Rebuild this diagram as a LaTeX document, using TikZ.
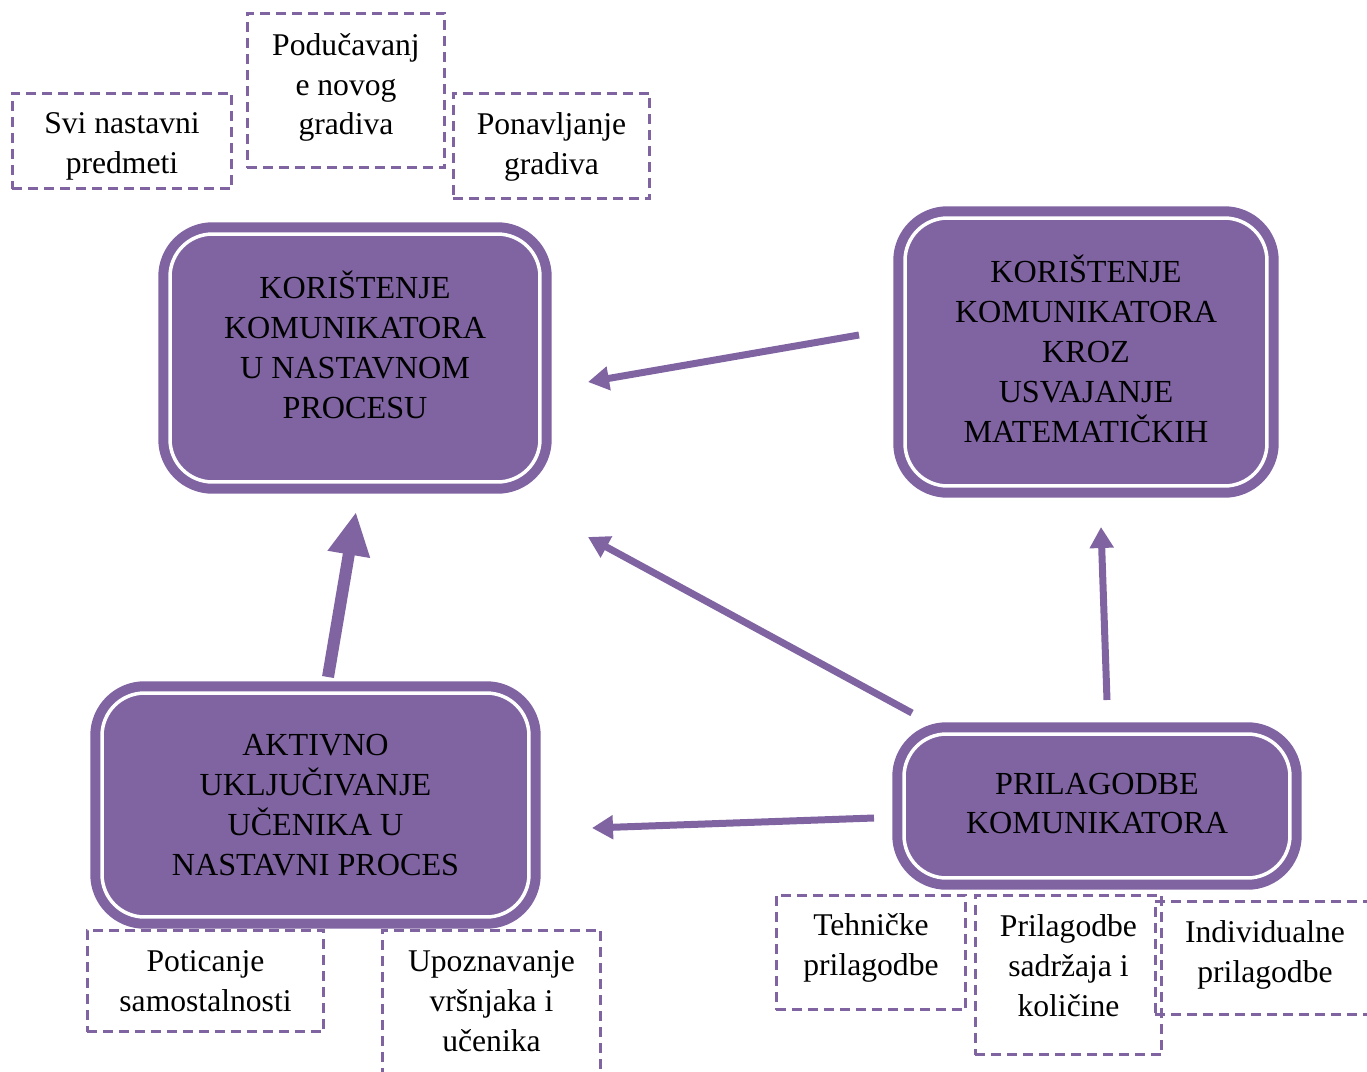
\documentclass[tikz,border=0pt]{standalone}
\usepackage{fontspec}
\setmainfont{Liberation Serif}
\usetikzlibrary{arrows.meta}
\definecolor{ljubicasta}{RGB}{128,100,162}

\begin{document}
\begin{tikzpicture}[x=0.02cm,y=-0.02cm,
    font=\fontsize{18}{22.7}\selectfont,
    glavni/.style={draw=ljubicasta, fill=ljubicasta, line width=0.2cm, double=white,
      double distance=0.07cm, rounded corners=0.85cm, inner sep=0pt},
    crtkani/.style={draw=ljubicasta, line width=0.06cm, dash pattern=on 0.2cm off 0.12cm,
      inner sep=0pt},
    tekst/.style={align=center, inner sep=0pt},
    strelica/.style={draw=ljubicasta, line width=0.14cm, -{Triangle[length=0.42cm,width=0.46cm]}},
    debela/.style={draw=ljubicasta, line width=0.24cm, -{Triangle[length=0.86cm,width=0.8cm]}}]
                            \clip (0,0) rectangle (1367,1072);
                            
                            % Drawing box proces
                            \node [glavni, minimum width=7.4cm, minimum height=4.96cm] (proces) at (355,358) {};%
                            \node [tekst, font=\fontsize{18.3}{22.7}\selectfont] (procesT) at (355,345) { KORIŠTENJE\\KOMUNIKATORA\\U NASTAVNOM\\PROCESU };%
                            
                            % Drawing box matematika
                            \node [glavni, minimum width=7.24cm, minimum height=5.36cm] (matematika) at (1086,352) {};%
                            \node [tekst, font=\fontsize{18.3}{22.7}\selectfont] (matematikaT) at (1086,349) { KORIŠTENJE\\KOMUNIKATORA\\KROZ\\USVAJANJE\\MATEMATIČKIH };%
                            
                            % Drawing box ucenici
                            \node [glavni, minimum width=8.54cm, minimum height=4.48cm] (ucenici) at (315.5,805) {};%
                            \node [tekst, font=\fontsize{18.3}{22.7}\selectfont] (uceniciT) at (315.5,805) { AKTIVNO\\UKLJUČIVANJE\\UČENIKA U\\NASTAVNI PROCES };%
                            
                            % Drawing box prilagodbe
                            \node [glavni, minimum width=7.72cm, minimum height=2.88cm] (prilagodbe) at (1097,806) {};%
                            \node [tekst, font=\fontsize{18.3}{22.7}\selectfont] (prilagodbeT) at (1097,803.5) { PRILAGODBE\\KOMUNIKATORA };%
                            
                            % Marking dashed boxes above proces
                            \node [crtkani, minimum width=4.4cm, minimum height=1.92cm] (svi) at (122,141) {};%
                            \node [tekst] (sviT) at (122,146.5) { Svi nastavni\\predmeti };%
                            \node [crtkani, minimum width=3.96cm, minimum height=3.1cm] (novo) at (346,90.5) {};%
                            \node [tekst] (novoT) at (346,87.5) { Podučavanj\\e novog\\gradiva };%
                            \node [crtkani, minimum width=3.94cm, minimum height=2.12cm] (ponavljanje) at (551.5,146) {};%
                            \node [tekst] (ponavljanjeT) at (551.5,146.5) { Ponavljanje\\gradiva };%
                            
                            % Marking dashed boxes below ucenici
                            \node [crtkani, minimum width=4.74cm, minimum height=2.04cm] (poticanje) at (205.5,981) {};%
                            \node [tekst] (poticanjeT) at (205.5,981) { Poticanje\\samostalnosti };%
                            \node [crtkani, minimum width=4.38cm, minimum height=3.2cm] (upoznavanje) at (491.5,1010) {};%
                            \node [tekst] (upoznavanjeT) at (491.5,1001.5) { Upoznavanje\\vršnjaka i\\učenika };%
                            
                            % Marking dashed boxes below prilagodbe
                            \node [crtkani, minimum width=3.8cm, minimum height=2.3cm] (tehnicke) at (871,952.5) {};%
                            \node [tekst] (tehnickeT) at (871,948) { Tehničke\\prilagodbe };%
                            \node [crtkani, minimum width=3.74cm, minimum height=3.2cm] (sadrzaj) at (1068.5,975) {};%
                            \node [tekst] (sadrzajT) at (1068.5,965.5) { Prilagodbe\\sadržaja i\\količine };%
                            \node [crtkani, minimum width=4.4cm, minimum height=2.28cm] (individualne) at (1265,958) {};%
                            \node [tekst] (individualneT) at (1265,955) { Individualne\\prilagodbe };%
                            
                            % Ends of the arrows
                            \coordinate (matematikaL) at (859,335);%
                            \coordinate (procesR) at (588,382);%
                            \coordinate (prilagodbeG) at (912,713);%
                            \coordinate (procesD) at (588,537);%
                            \coordinate (prilagodbeL) at (874,818);%
                            \coordinate (uceniciR) at (592,828);%
                            \coordinate (prilagodbeV) at (1107,700);%
                            \coordinate (matematikaD) at (1101,527);%
                            \coordinate (uceniciG) at (328,677);%
                            \coordinate (procesB) at (356,512);%
                            
                            % Drawing arrows
                            \draw [strelica] (matematikaL) -- (procesR);%
                            \draw [strelica] (prilagodbeG) -- (procesD);%
                            \draw [strelica] (prilagodbeL) -- (uceniciR);%
                            \draw [strelica] (prilagodbeV) -- (matematikaD);%
                            \draw [debela] (uceniciG) -- (procesB);%
\end{tikzpicture}
\end{document}
